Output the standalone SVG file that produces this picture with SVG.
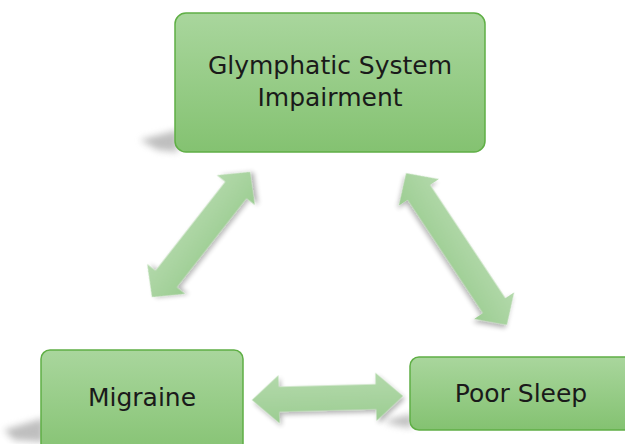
<svg xmlns="http://www.w3.org/2000/svg" width="625" height="444" viewBox="0 0 625 444">
<defs>
<linearGradient id="boxg" x1="0" y1="0" x2="0" y2="1">
<stop offset="0" stop-color="#a9d69d"/>
<stop offset="1" stop-color="#84c271"/>
</linearGradient>
<linearGradient id="arrg" x1="0" y1="0" x2="0" y2="1">
<stop offset="0" stop-color="#b3d9ab"/>
<stop offset="1" stop-color="#9ccd92"/>
</linearGradient>
<filter id="blur" x="-50%" y="-50%" width="200%" height="200%">
<feGaussianBlur stdDeviation="3.5"/>
</filter>
<filter id="ashadow" x="-20%" y="-20%" width="140%" height="140%">
<feGaussianBlur in="SourceAlpha" stdDeviation="2.5"/>
<feOffset dx="2" dy="3" result="o"/>
<feComponentTransfer><feFuncA type="linear" slope="0.3"/></feComponentTransfer>
<feMerge><feMergeNode/><feMergeNode in="SourceGraphic"/></feMerge>
</filter>
</defs>
<style>
.box{fill:url(#boxg);stroke:#5faf45;stroke-width:1.5}
.lbl{font-family:"DejaVu Sans","Liberation Sans",sans-serif;font-size:25px;fill:#1a1a1a;text-anchor:middle}
.arr{fill:url(#arrg);filter:url(#ashadow)}
.sh{fill:#8a8a8a;opacity:0.55;filter:url(#blur)}
</style>
<g id="shadows">
<path class="sh" d="M140 140 L178 130 L178 152 L158 150 Z"/>
<path class="sh" d="M4 430 L44 418 L44 442 L14 440 Z"/>
<path class="sh" d="M383 421 L412 414 L412 428 L395 425 Z"/>
</g>
<g id="connectors">
<path class="arr" transform="translate(201 234.5) rotate(-51.9)" d="M-79.5 0 L-56.5 -24 L-56.5 -13.5 L56.5 -13.5 L56.5 -24 L79.5 0 L56.5 24 L56.5 13.5 L-56.5 13.5 L-56.5 24 Z"/>
<path class="arr" transform="translate(456.5 249) rotate(56.4)" d="M-91 0 L-68 -24 L-68 -13.5 L68 -13.5 L68 -24 L91 0 L68 24 L68 13.5 L-68 13.5 L-68 24 Z"/>
<path class="arr" transform="translate(327.5 398) rotate(-1.5)" d="M-75.5 0 L-48.5 -24 L-48.5 -12.5 L48.5 -12.5 L48.5 -24 L75.5 0 L48.5 24 L48.5 12.5 L-48.5 12.5 L-48.5 24 Z"/>
</g>
<g id="glymphatic">
<rect class="box" x="175" y="13" width="310" height="139" rx="11"/>
<text class="lbl" x="330" y="74">Glymphatic System</text>
<text class="lbl" x="330" y="106">Impairment</text>
</g>
<g id="migraine">
<rect class="box" x="41" y="350" width="202" height="110" rx="9"/>
<text class="lbl" x="142" y="406">Migraine</text>
</g>
<g id="poorsleep">
<rect class="box" x="410" y="357" width="230" height="73" rx="9"/>
<text class="lbl" x="521" y="402">Poor Sleep</text>
</g>
</svg>
